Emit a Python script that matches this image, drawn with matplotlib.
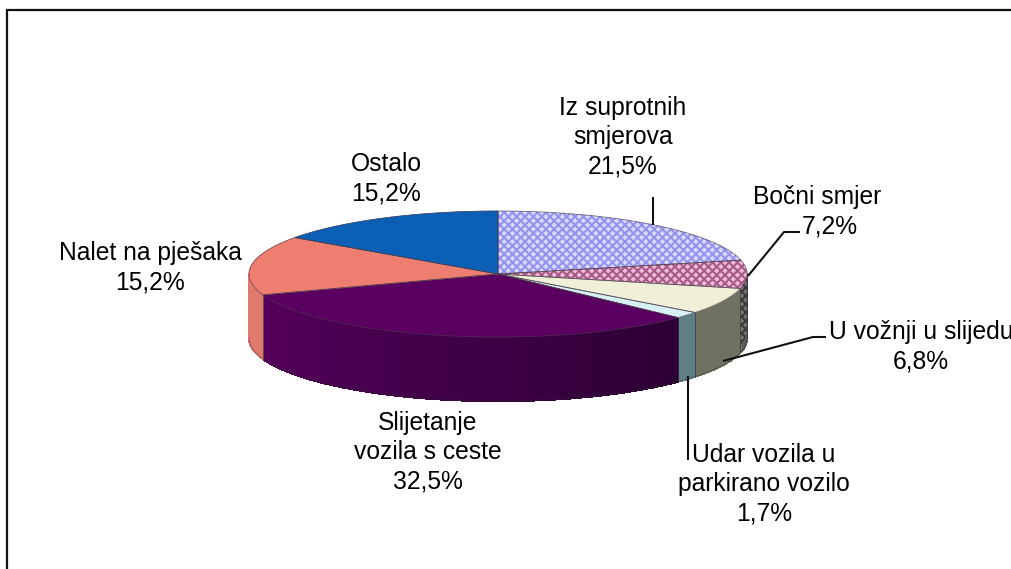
import numpy as np
import matplotlib
matplotlib.use("Agg")
import matplotlib.pyplot as plt
from matplotlib.patches import Polygon
from matplotlib.colors import to_rgb

# ---- data ----
categories = ["Iz suprotnih\nsmjerova", "Bočni smjer", "U vožnji u slijedu",
              "Udar vozila u\nparkirano vozilo", "Slijetanje\nvozila s ceste",
              "Nalet na pješaka", "Ostalo"]
values = [21.5, 7.2, 6.8, 1.7, 32.5, 15.2, 15.2]
top_colors = ["#dadaff", "#f0bcd8", "#f0f0d8", "#d6f0f4", "#5a0060", "#ee7f70", "#0b5fb5"]
hatch_colors = ["#9494f0", "#a85a88", None, None, None, None, None]
hatches = ["xxxx", "xxxx", None, None, None, None, None]
wall_left = ["#70706a", "#5c5c58", "#6f7162", "#5f7f82", "#55005c", "#e07a6c", "#0a4f90"]
wall_right = ["#70706a", "#5c5c58", "#6f7162", "#5f7f82", "#2c0034", "#e07a6c", "#0a4f90"]

label_pos = [(623, 137), None, None, (764, 484), (428, 452), (150, 268), (386, 179)]
leaders = [
    [(653, 197), (653, 225)],
    [(748, 276), (784, 232), (800, 232)],
    [(723, 361), (813, 337), (826, 337)],
    [(688, 376), (688, 460)],
]

plt.rcParams["font.family"] = ["Liberation Sans", "DejaVu Sans"]
plt.rcParams["hatch.linewidth"] = 1.5
FS = 17.7
LS = 1.28

fig = plt.figure(figsize=(10.12, 5.69), dpi=100, facecolor="white")
ax = fig.add_axes([0, 0, 1, 1])
ax.set_xlim(0, 1012)
ax.set_ylim(569, 0)
ax.axis("off")

# frame (runs off the right and bottom of the picture)
ax.plot([7, 7, 1012], [569, 10, 10], color="#111111", lw=1.6, solid_joinstyle="miter", zorder=1)

CX, CY, RX, RY, DEPTH = 498.0, 274.0, 249.0, 63.0, 64.0


def pt(t_deg, dy=0.0):
    t = np.radians(t_deg)
    return CX + RX * np.sin(t), CY - RY * np.cos(t) + dy


edges = np.concatenate([[0], np.cumsum(values)]) / np.sum(values) * 360.0

# side walls
for i, (a, b) in enumerate(zip(edges[:-1], edges[1:])):
    lo, hi = max(a, 90.0), min(b, 270.0)
    if hi <= lo:
        continue
    c_hi, c_lo = np.array(to_rgb(wall_left[i])), np.array(to_rgb(wall_right[i]))
    steps = np.linspace(lo, hi, int(hi - lo) + 2)
    for s0, s1 in zip(steps[:-1], steps[1:]):
        f = 1 - (0.5 * (s0 + s1) - lo) / (hi - lo)
        col = c_hi * (1 - f) + c_lo * f
        ts = np.linspace(s0, s1, 4)
        xa, ya = pt(ts)
        xb, yb = pt(ts[::-1], DEPTH)
        ax.add_patch(Polygon(np.column_stack([np.r_[xa, xb], np.r_[ya, yb]]),
                             facecolor=col, edgecolor=col, lw=1.0, antialiased=False, zorder=2))
    ax.plot(*pt(np.array([lo, lo]), np.array([0, DEPTH])), color="#333333", lw=0.5, zorder=3)

# dark stripe of the hatched side piece
ts = np.linspace(90, edges[2], 20)
xa, ya = pt(ts)
xb, yb = pt(ts[::-1], DEPTH - 8)
ax.add_patch(Polygon(np.column_stack([np.r_[xa, xb], np.r_[ya, yb]]), facecolor="#77776f",
                     edgecolor="#3a3a3a", hatch="xxxx", lw=0.3, zorder=3))

# outer lower rim
ts = np.linspace(90, 270, 200)
ax.plot(*pt(ts, DEPTH), color="#2b2b2b", lw=0.5, alpha=0.5, zorder=4)

# top faces
for i, (a, b) in enumerate(zip(edges[:-1], edges[1:])):
    ts = np.linspace(a, b, 100)
    x, y = pt(ts)
    verts = np.column_stack([np.r_[CX, x], np.r_[CY, y]])
    if hatch_colors[i]:
        ax.add_patch(Polygon(verts, facecolor=top_colors[i], edgecolor=hatch_colors[i],
                             hatch=hatches[i], lw=0, zorder=5))
    else:
        ax.add_patch(Polygon(verts, facecolor=top_colors[i], edgecolor=top_colors[i], lw=0.4, zorder=5))
    ax.add_patch(Polygon(verts, facecolor="none", edgecolor="#4a3a4a", lw=0.6, alpha=0.7, zorder=6))

# leader lines
for pts in leaders:
    xs, ys = zip(*pts)
    ax.plot(xs, ys, color="#111111", lw=1.5, zorder=7, solid_capstyle="butt")


def pct(v):
    return f"{v:.1f}".replace(".", ",") + "%"


txt = dict(color="black", fontsize=FS, ha="center", va="center", linespacing=LS, zorder=8)
for i, pos in enumerate(label_pos):
    if pos is not None:
        ax.text(pos[0], pos[1], f"{categories[i]}\n{pct(values[i])}", **txt)

# labels whose two lines are not centred on each other or run off the picture
ax.text(817, 197, categories[1], **txt)
ax.text(830, 226, pct(values[1]), **txt)
ax.text(921, 347, f"{categories[2]}\n{pct(values[2])}", clip_on=False, **txt)

fig.savefig("out.png", dpi=100)
